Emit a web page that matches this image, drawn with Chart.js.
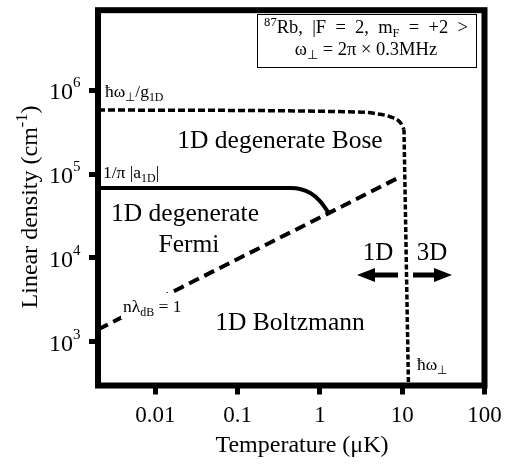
<!DOCTYPE html>
<html>
<head>
<meta charset="utf-8">
<script src="https://cdn.jsdelivr.net/npm/chart.js@4.4.1/dist/chart.umd.min.js"></script>
<style>
html, body { margin: 0; padding: 0; background: #fff; }
canvas { display: block; }
</style>
</head>
<body>
<canvas id="phase" width="512" height="468"></canvas>
<script>
// axis ticks
const xTicks = [0.01, 0.1, 1, 10, 100];
const xTickLabels = ["0.01", "0.1", "1", "10", "100"];
const yTicks = [1e3, 1e4, 1e5, 1e6];
const yTickExp = ["3", "4", "5", "6"];

// hbar omega / g1D boundary (top, then the corner)
const boseTopT = [0.002, 2.9, 4.5, 7.2, 9.5, 10.5];
const boseTopN = [5.8e5, 5.5e5, 5.3e5, 4.8e5, 4.1e5, 3.4e5];
// hbar omega crossover (vertical)
const crossT = [10.5, 11.9];
const crossN = [3.4e5, 300];
// 1/pi|a1D| boundary
const fermiT = [0.002, 0.44, 0.77, 1.0, 1.27];
const fermiN = [6.8e4, 6.8e4, 5.9e4, 4.75e4, 3.45e4];
// n lambda_dB = 1
const degT = [0.002, 0.01, 0.1, 1, 9.5];
const degN = [1400, 3100, 9700, 30300, 92800];

const pts = (xs, ys) => xs.map((x, i) => ({ x: x, y: ys[i] }));
const SERIF = '"Liberation Serif", "Times New Roman", serif';

// text with sub/superscripts: segs = [[text, 0 normal | 1 sub | 2 sup]]
function rich(ctx, segs, x, y, size, align) {
    const f = k => (k ? size * 0.68 : size) + "px " + SERIF;
    let w = 0;
    segs.forEach(([t, k]) => { ctx.font = f(k); w += ctx.measureText(t).width; });
    let cx = align === "center" ? x - w / 2 : align === "right" ? x - w : x;
    ctx.textAlign = "left";
    ctx.textBaseline = "alphabetic";
    segs.forEach(([t, k]) => {
        ctx.font = f(k);
        const dy = k === 1 ? size * 0.2 : k === 2 ? -size * 0.4 : 0;
        ctx.fillText(t, cx, y + dy);
        cx += ctx.measureText(t).width;
    });
}

function arrow(ctx, x0, x1, y) {
    const dir = Math.sign(x1 - x0);
    const hx = x1 - dir * 18;
    ctx.fillRect(Math.min(x0, hx), y - 2.5, Math.abs(hx - x0), 5);
    ctx.beginPath();
    ctx.moveTo(hx, y - 7);
    ctx.lineTo(x1, y);
    ctx.lineTo(hx, y + 7);
    ctx.closePath();
    ctx.fill();
}

const decor = {
    id: "decor",
    afterDraw(chart) {
        const ctx = chart.ctx;
        const a = chart.chartArea;
        const ys = chart.scales.y;
        ctx.save();
        ctx.fillStyle = "#000";
        ctx.strokeStyle = "#000";

        // frame
        ctx.lineWidth = 6;
        ctx.strokeRect(a.left, a.top, a.right - a.left, a.bottom - a.top);

        // y tick labels 10^n
        yTicks.forEach((v, i) => {
            const py = ys.getPixelForValue(v);
            rich(ctx, [["10", 0]], 73, py + 9, 24, "right");
            rich(ctx, [[yTickExp[i], 0]], 73, py - 3, 15, "left");
        });

        // axis titles
        rich(ctx, [["Temperature (\u03bcK)", 0]], 302, 452, 24, "center");
        ctx.save();
        ctx.translate(37, 207);
        ctx.rotate(-Math.PI / 2);
        rich(ctx, [["Linear density (cm", 0], ["-1", 2], [")", 0]], 0, 0, 24, "center");
        ctx.restore();

        // region labels
        rich(ctx, [["1D degenerate Bose", 0]], 280, 148, 25.5, "center");
        rich(ctx, [["1D degenerate", 0]], 185, 221, 25.5, "center");
        rich(ctx, [["Fermi", 0]], 189, 252, 25.5, "center");
        rich(ctx, [["1D Boltzmann", 0]], 290, 330, 25.5, "center");
        rich(ctx, [["1D", 0]], 378, 260, 25, "center");
        rich(ctx, [["3D", 0]], 432, 260, 25, "center");

        // line labels
        rich(ctx, [["\u0127\u03c9", 0], ["\u22a5", 1], ["/g", 0], ["1D", 1]], 105, 97, 17.5, "left");
        rich(ctx, [["1/\u03c0 |a", 0], ["1D", 1], ["|", 0]], 103, 178, 17.5, "left");
        ctx.fillStyle = "#fff";
        ctx.fillRect(121, 293, 74, 26);
        ctx.fillStyle = "#000";
        rich(ctx, [["n\u03bb", 0], ["dB", 1], [" = 1", 0]], 123, 312, 17.5, "left");
        rich(ctx, [["\u0127\u03c9", 0], ["\u22a5", 1]], 417, 370, 17.5, "left");

        // arrows
        arrow(ctx, 398, 357, 275);
        arrow(ctx, 413, 452, 275);

        // info box
        ctx.lineWidth = 1;
        ctx.strokeRect(257.5, 14.5, 219, 53);
        rich(ctx, [["87", 2], ["Rb,  |F  =  2,  m", 0], ["F", 1], ["  =  +2  >", 0]], 366, 33, 18.5, "center");
        rich(ctx, [["\u03c9", 0], ["\u22a5", 1], [" = 2\u03c0 \u00d7 0.3MHz", 0]], 366, 55, 18.5, "center");
        ctx.restore();
    }
};

new Chart(document.getElementById("phase"), {
    type: "line",
    data: {
        datasets: [
            {
                data: pts(boseTopT, boseTopN),
                borderColor: "#000",
                borderWidth: 3.5,
                borderDash: [7, 3],
                cubicInterpolationMode: "monotone",
                pointRadius: 0
            },
            {
                data: pts(crossT, crossN),
                borderColor: "#000",
                borderWidth: 3.5,
                borderDash: [5, 2.5],
                pointRadius: 0
            },
            {
                data: pts(fermiT, fermiN),
                borderColor: "#000",
                borderWidth: 4,
                cubicInterpolationMode: "monotone",
                pointRadius: 0
            },
            {
                data: pts(degT, degN),
                borderColor: "#000",
                borderWidth: 4,
                borderDash: [11, 6],
                pointRadius: 0
            }
        ]
    },
    options: {
        responsive: false,
        animation: false,
        devicePixelRatio: 1,
        layout: { padding: { left: 0, right: 27.5, top: 4, bottom: 0 } },
        plugins: {
            legend: { display: false },
            tooltip: { enabled: false }
        },
        scales: {
            x: {
                type: "logarithmic",
                min: 0.002,
                max: 100,
                afterBuildTicks: s => { s.ticks = xTicks.map(v => ({ value: v })); },
                afterFit: s => { s.height = 82.5; },
                ticks: {
                    autoSkip: false,
                    maxRotation: 0,
                    padding: 8,
                    color: "#000",
                    font: { family: SERIF, size: 23 },
                    callback: (v, i) => xTickLabels[i]
                },
                grid: {
                    drawOnChartArea: false,
                    tickLength: 9,
                    lineWidth: 5,
                    tickColor: "#000"
                },
                border: { display: false }
            },
            y: {
                type: "logarithmic",
                min: 300,
                max: 9e6,
                afterBuildTicks: s => { s.ticks = yTicks.map(v => ({ value: v })); },
                afterFit: s => { s.width = 98; },
                ticks: {
                    autoSkip: false,
                    callback: () => ""
                },
                grid: {
                    drawOnChartArea: false,
                    tickLength: 9,
                    lineWidth: 5,
                    tickColor: "#000"
                },
                border: { display: false }
            }
        }
    },
    plugins: [decor]
});
</script>
</body>
</html>
